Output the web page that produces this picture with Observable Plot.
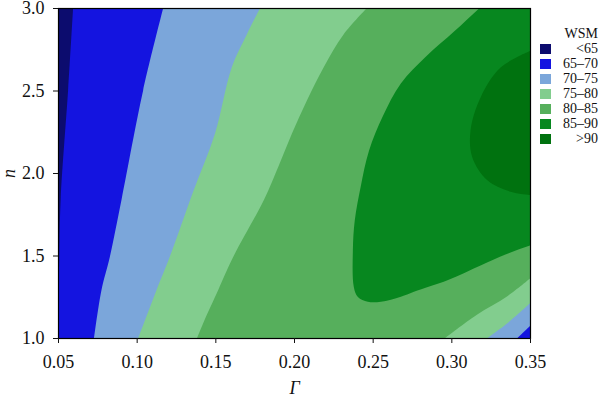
<!DOCTYPE html>
<html><head><meta charset="utf-8">
<script src="https://cdn.jsdelivr.net/npm/d3@7"></script>
<script src="https://cdn.jsdelivr.net/npm/@observablehq/plot@0.6"></script>
<style>
body{margin:0;background:#fff;overflow:hidden;}
#wrap{position:relative;width:600px;height:396px;font-family:"Liberation Serif","Times New Roman",serif;}
#legend{position:absolute;left:540px;top:26px;width:58px;font-size:14px;color:#111;}
#legend .title{height:15px;line-height:15px;text-align:right;}
#legend .row{height:15px;display:flex;align-items:center;}
#legend .sw{width:11px;height:10px;flex:none;}
#legend .lab{flex:1;text-align:right;line-height:15px;}
g[aria-label="x-axis label"] text, g[aria-label="y-axis label"] text{font-style:italic;}
</style></head>
<body><div id="wrap"><div id="chart"></div><div id="legend"></div></div>
<script>
// WSM bands and their colours
const bands  = ["<65", "65–70", "70–75", "75–80", "80–85", "85–90", ">90"];
const colors = ["#0c0c6e", "#1414e0", "#7ba6da", "#82cd8e", "#56af5c", "#07871f", "#00720f"];
const xTicks = [0.05, 0.10, 0.15, 0.20, 0.25, 0.30, 0.35];
const yTicks = [1.0, 1.5, 2.0, 2.5, 3.0];

// contour boundaries, [Γ, n]
const edge65 = [[0.0596,3.0],[0.0564,2.5],[0.0517,1.84],[0.0508,1.5],[0.0503,1.2],[0.05,1.0]];
const edge70 = [[0.1169,3.0],[0.1041,2.5],[0.0904,1.84],[0.0829,1.49],[0.0776,1.29],[0.0729,1.0]];
const edge75 = [[0.1785,3.0],[0.170,2.84],[0.1604,2.64],[0.1498,2.24],[0.136,1.89],[0.1211,1.494],[0.1127,1.293],[0.101,1.0]];
const edge80 = [[0.2464,3.0],[0.2315,2.84],[0.2188,2.64],[0.2082,2.44],[0.1987,2.24],[0.1901,2.04],[0.181,1.84],[0.1615,1.494],[0.1519,1.293],[0.1424,1.093],[0.1384,1.0]];
// lower-right corner, where WSM falls again
const corner80 = [[0.296,1.0],[0.316,1.14],[0.3356,1.253],[0.35,1.36]];
const corner75 = [[0.3229,1.0],[0.3356,1.09],[0.35,1.211]];
const corner70 = [[0.342,1.0],[0.35,1.072]];
const edge85 = [[0.3173,3.0],[0.3014,2.86],[0.2836,2.709],[0.2676,2.546],[0.2562,2.348],[0.2473,2.137],[0.2422,1.926],[0.2383,1.715],[0.2371,1.534],[0.2377,1.312],[0.2403,1.251],[0.2466,1.223],[0.2549,1.223],[0.2676,1.253],[0.2759,1.283],[0.2976,1.354],[0.3186,1.444],[0.3345,1.51],[0.35,1.564]];
const edge90 = [[0.35,2.739],[0.3313,2.639],[0.3186,2.458],[0.3122,2.257],[0.3133,2.096],[0.3229,1.956],[0.3377,1.886],[0.35,1.866]];

const G = d => d[0], N = d => d[1];
const right = (pts, c) => Plot.areaX(pts, {y: N, x1: G, x2: 0.36, fill: colors[c], curve: "catmull-rom", clip: true});
const below = (pts, c) => Plot.areaY(pts, {x: G, y1: 0.9, y2: N, fill: colors[c], curve: "catmull-rom", clip: true});
// closed outline for the 85 contour, finished outside the frame
const ring85 = [[0.326,3.08], ...edge85, [0.365,1.6], [0.372,3.1]];

const font = '"Liberation Serif","Times New Roman",serif';
const plot = Plot.plot({
  width: 600, height: 396,
  marginLeft: 58, marginRight: 70, marginTop: 8, marginBottom: 58,
  style: {fontFamily: font, fontSize: "19px", color: "#111"},
  x: {domain: [0.05, 0.35]},
  y: {domain: [1.0, 3.0]},
  marks: [
    Plot.frame({fill: colors[0]}),
    right(edge65, 1),
    right(edge70, 2),
    right(edge75, 3),
    right(edge80, 4),
    below(corner80, 3),
    below(corner75, 2),
    below(corner70, 1),
    Plot.line(ring85, {x: G, y: N, fill: colors[5], stroke: "none", curve: "catmull-rom", clip: true}),
    right(edge90, 6),
    Plot.frame({stroke: "#000", strokeWidth: 1.2}),
    Plot.axisX(xTicks, {tickFormat: d3.format(".2f"), tickSize: 5, tickPadding: 12, fontSize: 18, fontFamily: font, label: "Γ", labelAnchor: "center", labelArrow: "none", labelOffset: 55}),
    Plot.axisY(yTicks, {tickFormat: d3.format(".1f"), tickSize: 5, tickPadding: 9, fontSize: 18, fontFamily: font, label: "n", labelAnchor: "center", labelArrow: "none", labelOffset: 56})
  ]
});
document.getElementById("chart").appendChild(plot);

const lg = document.getElementById("legend");
lg.innerHTML = '<div class="title">WSM</div>' + bands.map((b, i) =>
  `<div class="row"><div class="sw" style="background:${colors[i]}"></div><div class="lab">${b}</div></div>`).join("");
</script>
</body></html>
